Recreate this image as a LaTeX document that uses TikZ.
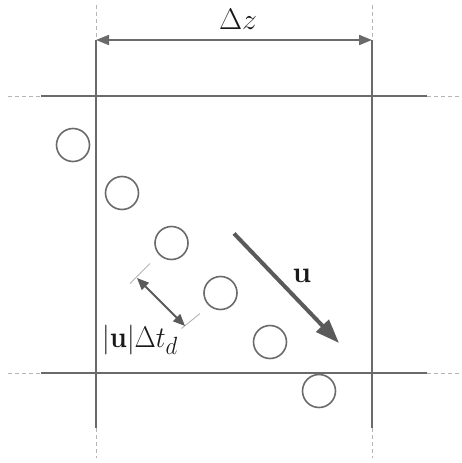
\documentclass[tikz,border=0pt]{standalone}
\usetikzlibrary{arrows.meta}
\definecolor{linegray}{HTML}{6A6A6A}
\definecolor{dashgray}{HTML}{B4B4B4}
\definecolor{arrowgray}{HTML}{5A5A5A}
\begin{document}
\begin{tikzpicture}[x=1pt,y=-1pt,
  wall/.style={draw=linegray,line width=2pt},
  guide/.style={draw=dashgray,line width=0.8pt,dash pattern=on 4pt off 3pt},
  drop/.style={circle,draw=linegray,line width=1.6pt,minimum size=33pt,inner sep=0pt},
  lbl/.style={font=\fontsize{24.88}{30}\selectfont,text=black!90,inner sep=0pt,scale=1.2},
  tick/.style={draw=dashgray,line width=0.9pt}]
\useasboundingbox (0,0) rectangle (462,463);
% coordinates
\coordinate (Lt) at (96,5);   \coordinate (La) at (96,40);
\coordinate (Lb) at (96,428); \coordinate (Le) at (96,458);
\coordinate (Rt) at (372,5);  \coordinate (Ra) at (372,40);
\coordinate (Rb) at (372,428);\coordinate (Re) at (372,458);
\coordinate (Tl) at (8,96);   \coordinate (Ta) at (41,96);
\coordinate (Tb) at (427,96); \coordinate (Te) at (460,96);
\coordinate (Bl) at (8,373);  \coordinate (Ba) at (41,373);
\coordinate (Bb) at (427,373);\coordinate (Be) at (460,373);
% dashed extensions
\path[guide] (Lt) -- (La) (Lb) -- (Le) (Rt) -- (Ra) (Rb) -- (Re)
  (Tl) -- (Ta) (Tb) -- (Te) (Bl) -- (Ba) (Bb) -- (Be);
% solid walls
\path[wall] (La) -- (Lb) (Ra) -- (Rb) (Ta) -- (Tb) (Ba) -- (Bb);
% dimension arrow
\draw[draw=linegray,line width=2pt,{Triangle[length=13pt,width=10pt]}-{Triangle[length=13pt,width=10pt]},fill=linegray] (La) -- (Ra);
\node[lbl,anchor=base] (dz) at (238,29) {$\Delta z$};
% droplets
\node[drop] (d1) at (73,145) {};
\node[drop] (d2) at (122,193) {};
\node[drop] (d3) at (171.5,243) {};
\node[drop] (d4) at (220.5,293) {};
\node[drop] (d5) at (270,342) {};
\node[drop] (d6) at (319,391) {};
% velocity arrow
\coordinate (us) at (234,233.5);
\coordinate (ue) at (339,343);
\draw[draw=arrowgray,line width=4pt,-{Triangle[length=24pt,width=17pt]}] (us) -- (ue);
\node[lbl,anchor=base] (ul) at (302,282) {$\mathbf{u}$};
% spacing dimension
\coordinate (t1a) at (130,283.5); \coordinate (t1b) at (150,263.5);
\coordinate (t2a) at (181.5,328.5); \coordinate (t2b) at (200,313.5);
\path[tick] (t1a) -- (t1b) (t2a) -- (t2b);
\coordinate (sa) at (137,278); \coordinate (sb) at (185,326);
\draw[draw=arrowgray,line width=1.8pt,{Triangle[length=12pt,width=10pt]}-{Triangle[length=12pt,width=10pt]}] (sa) -- (sb);
\node[lbl,xscale=0.92,anchor=base west] (sl) at (102,347) {$|\mathbf{u}|\Delta t_d$};
\end{tikzpicture}
\end{document}
